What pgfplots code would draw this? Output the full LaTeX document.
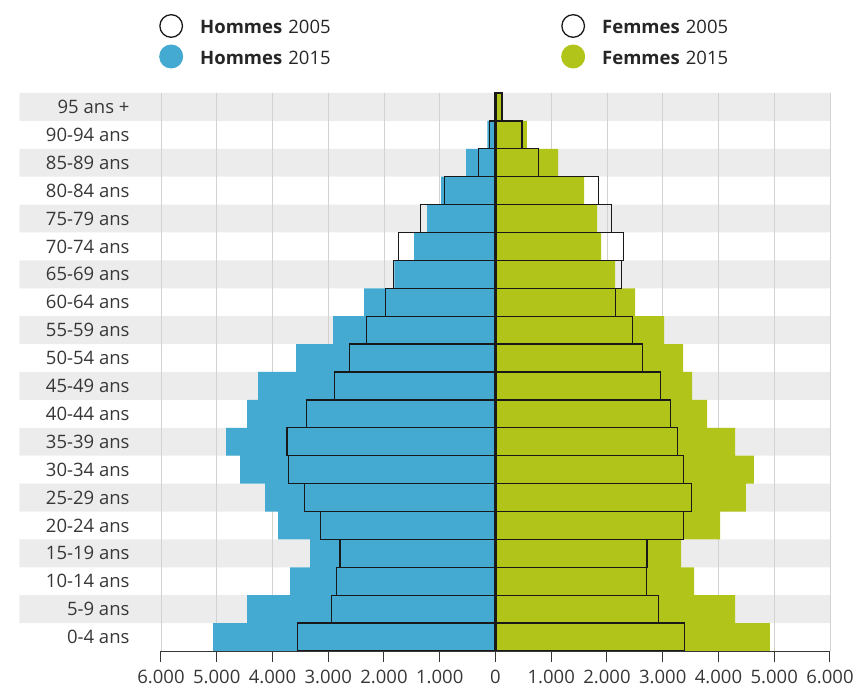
\documentclass[border=0pt]{standalone}
\usepackage{fontspec}
\setmainfont{Open Sans}
\usepackage{pgfplots}
\usepackage{pgfplotstable}
\pgfplotsset{compat=1.18}
\definecolor{hblue}{RGB}{69,170,210}
\definecolor{fgreen}{RGB}{176,196,26}
\definecolor{rowgray}{RGB}{235,236,235}
\definecolor{gridgray}{RGB}{210,210,210}
\definecolor{txt}{RGB}{55,55,55}
\pgfplotstableread{
y m15 m05 f15 f05
0 -5063 -3557 4923 3387
1 -4453 -2936 4296 2928
2 -3683 -2846 3561 2713
3 -3324 -2787 3328 2719
4 -3898 -3140 4027 3376
5 -4131 -3426 4493 3520
6 -4579 -3713 4636 3376
7 -4830 -3742 4296 3262
8 -4453 -3396 3794 3136
9 -4256 -2889 3525 2964
10 -3575 -2625 3364 2641
11 -2912 -2309 3023 2455
12 -2357 -1968 2504 2158
13 -1813 -1825 2145 2258
14 -1461 -1742 1894 2294
15 -1228 -1347 1823 2079
16 -977 -917 1590 1846
17 -527 -299 1124 777
18 -145 -105 565 473
19 -25 -20 95 115
}\pyramid
\begin{document}
\begin{tikzpicture}
\begin{axis}[
  set layers=standard,
  scale only axis, width=669pt, height=558pt,
  xmin=-6000, xmax=6000, ymin=-0.5, ymax=19.5,
  clip=false,
  axis line style={draw=none},
  xtick pos=bottom,
  xtick={-6000,-5000,...,6000},
  xticklabels={6.000,5.000,4.000,3.000,2.000,1.000,0,1.000,2.000,3.000,4.000,5.000,6.000},
  ytick={0,...,19},
  yticklabels={0-4 ans,5-9 ans,10-14 ans,15-19 ans,20-24 ans,25-29 ans,30-34 ans,35-39 ans,40-44 ans,45-49 ans,50-54 ans,55-59 ans,60-64 ans,65-69 ans,70-74 ans,75-79 ans,80-84 ans,85-89 ans,90-94 ans,95 ans +},
  ytick style={draw=none},
  xtick style={draw=none},
  xmajorgrids, major grid style={color=gridgray, line width=0.8pt},
  tick label style={font=\fontsize{18.5}{22}\selectfont, color=txt},
  yticklabel style={anchor=east, xshift=-28pt},
  xticklabel style={yshift=-16pt},
  legend columns=2,
  legend cell align=left,
  legend style={draw=none, fill=none, at={(axis description cs:-0.0075,1.133)}, anchor=north west,
    font=\fontsize{18.5}{22}\selectfont, text=black!85,
    nodes={inner sep=0pt, text width=160pt, text height=13pt, text depth=4pt},
    row sep=13.5pt,
    /tikz/every odd column/.append style={column sep=17pt},
    /tikz/every even column/.append style={column sep=201pt}},
]
\begin{pgfonlayer}{axis background}
\fill[rowgray] (axis cs:-8540,0.5) rectangle (axis cs:6000,1.5)
  (axis cs:-8540,2.5) rectangle (axis cs:6000,3.5)
  (axis cs:-8540,4.5) rectangle (axis cs:6000,5.5)
  (axis cs:-8540,6.5) rectangle (axis cs:6000,7.5)
  (axis cs:-8540,8.5) rectangle (axis cs:6000,9.5)
  (axis cs:-8540,10.5) rectangle (axis cs:6000,11.5)
  (axis cs:-8540,12.5) rectangle (axis cs:6000,13.5)
  (axis cs:-8540,14.5) rectangle (axis cs:6000,15.5)
  (axis cs:-8540,16.5) rectangle (axis cs:6000,17.5)
  (axis cs:-8540,18.5) rectangle (axis cs:6000,19.5);
\end{pgfonlayer}
\addlegendimage{legend image code/.code={\path[draw=none, fill=none] (0,-6pt) rectangle (24pt,6pt); \path[overlay, draw=black!90, line width=1.3pt, fill=white] (12pt,3.5pt) circle (11.3pt);}}
\addlegendentry{\textbf{Hommes} 2005}
\addlegendimage{legend image code/.code={\path[draw=none, fill=none] (0,-6pt) rectangle (24pt,6pt); \path[overlay, draw=black!90, line width=1.3pt, fill=white] (12pt,3.5pt) circle (11.3pt);}}
\addlegendentry{\textbf{Femmes} 2005}
\addlegendimage{legend image code/.code={\path[draw=none, fill=none] (0,-6pt) rectangle (24pt,6pt); \path[overlay, draw=none, fill=hblue] (12pt,3.5pt) circle (12pt);}}
\addlegendentry{\textbf{Hommes} 2015}
\addlegendimage{legend image code/.code={\path[draw=none, fill=none] (0,-6pt) rectangle (24pt,6pt); \path[overlay, draw=none, fill=fgreen] (12pt,3.5pt) circle (12pt);}}
\addlegendentry{\textbf{Femmes} 2015}
\addplot[xbar, bar width=1, bar shift=0pt, fill=hblue, draw=none, forget plot] table[x=m15, y=y] {\pyramid};
\addplot[xbar, bar width=1, bar shift=0pt, fill=fgreen, draw=none, forget plot] table[x=f15, y=y] {\pyramid};
\addplot[xbar, bar width=1, bar shift=0pt, fill=none, draw=black!90, line width=1.3pt, forget plot] table[x=m05, y=y] {\pyramid};
\addplot[xbar, bar width=1, bar shift=0pt, fill=none, draw=black!90, line width=1.3pt, forget plot] table[x=f05, y=y] {\pyramid};
\draw[black!90, line width=3.3pt] (axis cs:0,-0.5) -- (axis cs:0,19.5);
\draw[txt, line width=1pt] (axis cs:-6000,-0.5) -- (axis cs:6000,-0.5);
\pgfplotsinvokeforeach{-6000,-5000,...,6000}{\draw[txt, line width=1pt] (axis cs:#1,-0.5) -- ++(0pt,-11pt);}
\end{axis}
\pgfresetboundingbox
\path[use as bounding box] (-161pt,-38pt) rectangle (694pt,651pt);
\end{tikzpicture}
\end{document}
